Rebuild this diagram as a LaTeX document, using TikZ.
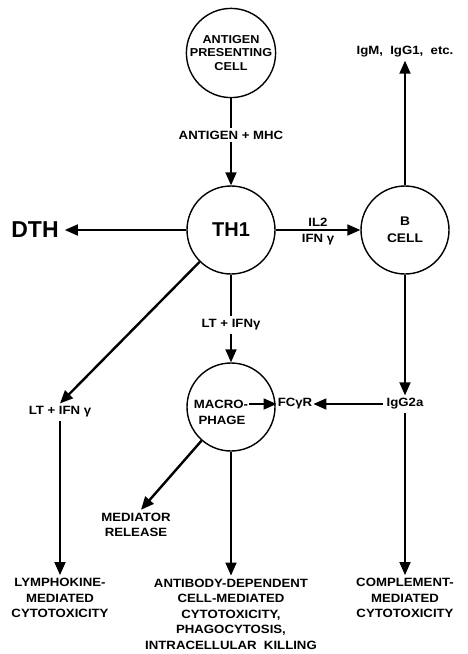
\documentclass[tikz,border=0pt]{standalone}
\usepackage{fontspec}
\setmainfont{Liberation Sans}
\newfontfamily\widefont{Liberation Sans}[FakeStretch=1.1]
\usetikzlibrary{arrows.meta}

\tikzset{
  arrowK/.style={-{Triangle[length=13pt, width=11pt]}, line width=1.8pt},
  lineK/.style={line width=1.8pt},
  cell/.style={circle, draw, line width=1.4pt, minimum size=88pt, inner sep=0pt,
               align=center, font=\widefont\bfseries\fontsize{11.5}{13.5}\selectfont},
  lbl/.style={align=center, inner sep=3pt,
              font=\widefont\bfseries\fontsize{12}{15.5}\selectfont},
}

\begin{document}
\begin{tikzpicture}[x=1pt, y=-1pt]
  \useasboundingbox (0,0) rectangle (467,654);
  % cells
  \node[cell] (apc) at (231,53) {ANTIGEN\\PRESENTING\\CELL};
  \node[cell, font=\bfseries\fontsize{20}{24}\selectfont] (th1) at (231,230) {TH1};
  \node[cell, font=\widefont\bfseries\fontsize{12.5}{17}\selectfont] (bcell) at (405,230) {B\\CELL};
  \node[cell] (mac) at (231,407) {};
  \node[lbl, inner sep=1pt] (macro) at (221,404) {MACRO-};
  \node[lbl, inner sep=1pt] (phage) at (222,420) {PHAGE};
  % labels
  \node[lbl] (agmhc) at (231,135) {ANTIGEN + MHC};
  \node[font=\bfseries\fontsize{23}{26}\selectfont, inner sep=6pt] (dth) at (35,230) {DTH};
  \node[lbl] (ig) at (405,52) {IgM,\ \ IgG1,\ \ etc.};
  \node[lbl] (ltmid) at (231,325) {LT + IFNγ};
  \node[lbl] (ltleft) at (60,412) {LT + IFN γ};
  \node[lbl, inner sep=1pt] (fcr) at (295,404) {FCγR};
  \node[lbl] (igg2a) at (405,404) {IgG2a};
  \node[lbl] (medrel) at (136,525) {MEDIATOR\\RELEASE};
  \node[lbl] (lymph) at (60,598) {LYMPHOKINE-\\MEDIATED\\CYTOTOXICITY};
  \node[lbl] (adcc) at (231,614) {ANTIBODY-DEPENDENT\\CELL-MEDIATED\\CYTOTOXICITY,\\PHAGOCYTOSIS,\\INTRACELLULAR\ \ KILLING};
  \node[lbl] (compl) at (405,598) {COMPLEMENT-\\MEDIATED\\CYTOTOXICITY};
  % connectors
  \draw[lineK] (apc) -- (agmhc);
  \draw[arrowK] (agmhc) -- (th1);
  \draw[arrowK] (th1) -- (dth);
  \draw[arrowK] (th1) -- node[lbl, above] {IL2} node[lbl, below] {IFN γ} (bcell);
  \draw[arrowK] (bcell) -- (ig);
  \draw[lineK] (th1) -- (ltmid);
  \draw[arrowK] (ltmid) -- (mac);
  \draw[arrowK, line width=2.4pt] (th1) -- (ltleft.north);
  \draw[arrowK] (ltleft) -- (lymph);
  \draw[arrowK] (bcell) -- (igg2a);
  \draw[arrowK] (igg2a) -- (fcr);
  \draw[arrowK] (macro) -- (fcr);
  \draw[arrowK, line width=2.4pt] (mac) -- ([xshift=5pt]medrel.north);
  \draw[arrowK] (mac) -- (adcc);
  \draw[arrowK] (igg2a) -- (compl);
\end{tikzpicture}
\end{document}
